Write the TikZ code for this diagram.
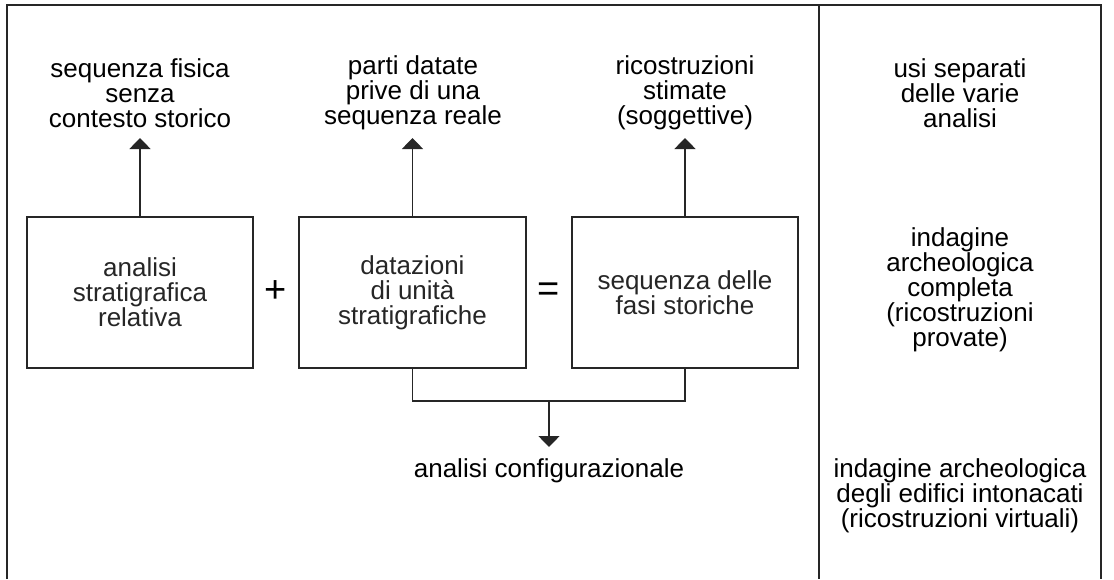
\documentclass[tikz,border=0pt]{standalone}
\usepackage{fontspec}
\setmainfont{Liberation Sans}
\usetikzlibrary{arrows.meta}
\begin{document}
\begin{tikzpicture}[x=1pt,y=-1pt,
  line/.style={line width=1.5pt, black!85},
  stbox/.style={draw, line width=1.5pt, black!85, minimum width=226pt, minimum height=151pt, inner sep=0pt, align=center, font=\fontsize{26}{25}\selectfont},
  lab/.style={inner sep=0pt, align=center, font=\fontsize{26}{25}\selectfont},
  op/.style={inner sep=0pt, font=\fontsize{38}{38}\selectfont},
  arr/.style={line width=1.5pt, black!85, -{Triangle[width=21pt,length=11pt]}}
]
\useasboundingbox (0,0) rectangle (1114,579);
% frame
\draw[line] (7,579) -- (7,5) -- (1101,5) -- (1101,579);
\draw[line] (819,5) -- (819,579);
% boxes
\node[stbox] (b1) at (140,292.5) {analisi\\stratigrafica\\relativa};
\node[stbox, minimum width=227pt] (b2) at (412.5,292.5) {datazioni\\di unità\\stratigrafiche};
\node[stbox] (b3) at (685,292.5) {sequenza delle\\fasi storiche};
\node[op] (plus) at (276,292) {+};
\node[op] (eq) at (549,292) {=};
% top labels
\node[lab] (l1) at (140,93) {sequenza fisica\\senza\\contesto storico};
\node[lab] (l2) at (413,93) {parti datate\\prive di una\\sequenza reale};
\node[lab] (l3) at (685,93) {ricostruzioni\\stimate\\(soggettive)};
\coordinate (t1) at (140,138);
\coordinate (t2) at (412.5,138);
\coordinate (t3) at (685,138);
\draw[arr] (b1.north) -- (t1);
\draw[arr] (b2.north) -- (t2);
\draw[arr] (b3.north) -- (t3);
% bracket
\coordinate (j) at (549,401);
\coordinate (t4) at (549,447);
\draw[line] (b2.south) |- (j) -| (b3.south);
\draw[arr] (j) -- (t4);
\node[lab] (cfg) at (549,471) {analisi configurazionale};
% right column
\node[lab] (r1) at (960,93) {usi separati\\delle varie\\analisi};
\node[lab] (r2) at (960,290) {indagine\\archeologica\\completa\\(ricostruzioni\\provate)};
\node[lab] (r3) at (960,496) {indagine archeologica\\degli edifici intonacati\\(ricostruzioni virtuali)};
\end{tikzpicture}
\end{document}
